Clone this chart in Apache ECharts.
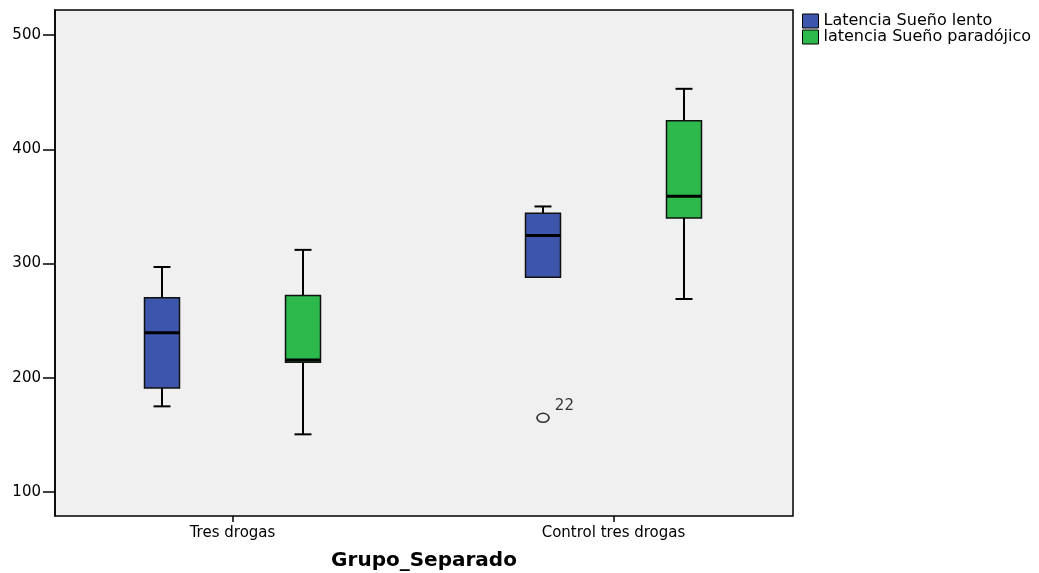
<!DOCTYPE html>
<html>
<head>
<meta charset="utf-8">
<script src="https://cdn.jsdelivr.net/npm/echarts@6/dist/echarts.min.js"></script>
<style>
html,body{margin:0;padding:0;background:#fff;}
#chart{width:1039px;height:573px;}
</style>
</head>
<body>
<div id="chart"></div>
<script>
// ---- data ----
const categories = ['Tres drogas', 'Control tres drogas'];
const seriesNames = ['Latencia Sueño lento', 'latencia Sueño paradójico'];
// [min, Q1, median, Q3, max]
const lentoStats = [
  [175, 191, 239.5, 270, 297],
  [288, 288, 324.5, 344, 350]
];
const paradojicoStats = [
  [150.5, 213.5, 215.5, 272, 312],
  [269, 340, 359, 425, 453]
];
// [categoryIndex, value, case id]
const outliers = [[1, 165, '22']];
const yTicks = [100, 200, 300, 400, 500];

// ---- styles ----
const FONT = 'DejaVu Sans';
const BOX_W = 35, CAP_W = 17, OFFSET = 70.5;
const colors = ['#3d56ab', '#2db84b'];

function makeRender(offsetPx) {
  return function (params, api) {
    const cat = api.value(0);
    const p = [1, 2, 3, 4, 5].map(i => api.coord([cat, api.value(i)]));
    const x = p[0][0] + offsetPx;
    const yMin = p[0][1], yQ1 = p[1][1], yMed = p[2][1], yQ3 = p[3][1], yMax = p[4][1];
    const ls = { stroke: '#000', lineWidth: 2 };
    const children = [];
    if (yMax < yQ3 - 0.5) {
      children.push({ type: 'line', shape: { x1: x, y1: yMax, x2: x, y2: yQ3 }, style: ls });
      children.push({ type: 'line', shape: { x1: x - CAP_W / 2, y1: yMax, x2: x + CAP_W / 2, y2: yMax }, style: ls });
    }
    if (yMin > yQ1 + 0.5) {
      children.push({ type: 'line', shape: { x1: x, y1: yQ1, x2: x, y2: yMin }, style: ls });
      children.push({ type: 'line', shape: { x1: x - CAP_W / 2, y1: yMin, x2: x + CAP_W / 2, y2: yMin }, style: ls });
    }
    children.push({
      type: 'rect',
      shape: { x: x - BOX_W / 2, y: yQ3, width: BOX_W, height: yQ1 - yQ3 },
      style: { fill: api.visual('color'), stroke: '#111', lineWidth: 1.5 }
    });
    children.push({
      type: 'line',
      shape: { x1: x - BOX_W / 2, y1: yMed, x2: x + BOX_W / 2, y2: yMed },
      style: { stroke: '#000', lineWidth: 3 }
    });
    return { type: 'group', children: children };
  };
}

const chart = echarts.init(document.getElementById('chart'), null, { renderer: 'canvas' });
chart.setOption({
  animation: false,
  backgroundColor: '#fff',
  textStyle: { fontFamily: FONT },
  legend: {
    data: seriesNames,
    orient: 'vertical',
    left: 797,
    top: 8,
    itemWidth: 16,
    itemHeight: 14,
    itemGap: 0,
    icon: 'rect',
    itemStyle: { borderColor: '#000', borderWidth: 1 },
    textStyle: { fontFamily: FONT, fontSize: 16, color: '#000', lineHeight: 14 }
  },
  grid: [
    { left: 55, right: 246, top: 10, bottom: 57, outerBoundsMode: 'none', containLabel: false, show: true, backgroundColor: '#f0f0f0', borderColor: '#000', borderWidth: 1.5 },
    { left: 42, width: 762, top: 10, bottom: 57, outerBoundsMode: 'none', containLabel: false }
  ],
  xAxis: [
    {
      gridIndex: 0, type: 'category', data: categories,
      axisLine: { show: false }, axisTick: { show: false }, axisLabel: { show: false },
      name: 'Grupo_Separado', nameLocation: 'middle', nameGap: 35,
      nameTextStyle: { fontFamily: FONT, fontSize: 20, fontWeight: 'bold', color: '#000' }
    },
    {
      gridIndex: 1, type: 'category', data: categories,
      axisLine: { show: false },
      axisTick: { show: true, alignWithLabel: true, length: 6, lineStyle: { color: '#000', width: 1.5 } },
      axisLabel: { margin: 10, fontFamily: FONT, fontSize: 15, color: '#000' }
    }
  ],
  yAxis: [
    {
      gridIndex: 0, type: 'value', min: 79, max: 522,
      splitLine: { show: false },
      axisLine: { show: true, lineStyle: { color: '#000', width: 1.5 } },
      axisTick: { show: true, length: 12, customValues: yTicks, lineStyle: { color: '#000', width: 1.5 } },
      axisLabel: { margin: 14, customValues: yTicks, fontFamily: FONT, fontSize: 15, color: '#000' }
    },
    { gridIndex: 1, type: 'value', min: 79, max: 522, show: false }
  ],
  series: [
    {
      name: seriesNames[0], type: 'custom', xAxisIndex: 1, yAxisIndex: 1,
      itemStyle: { color: colors[0] },
      encode: { x: 0, y: [1, 2, 3, 4, 5] },
      renderItem: makeRender(-OFFSET),
      data: lentoStats.map((s, i) => [i].concat(s))
    },
    {
      name: seriesNames[1], type: 'custom', xAxisIndex: 1, yAxisIndex: 1,
      itemStyle: { color: colors[1] },
      encode: { x: 0, y: [1, 2, 3, 4, 5] },
      renderItem: makeRender(OFFSET),
      data: paradojicoStats.map((s, i) => [i].concat(s))
    },
    {
      name: 'outliers', type: 'scatter', xAxisIndex: 1, yAxisIndex: 1,
      symbol: 'circle', symbolSize: [12, 9], symbolOffset: [-OFFSET, 0],
      itemStyle: { color: 'rgba(0,0,0,0)', borderColor: '#000', borderWidth: 1.5 },
      label: {
        show: true, position: 'right', distance: 5, offset: [0, -12],
        formatter: p => p.value[2], fontFamily: FONT, fontSize: 15, color: '#000'
      },
      emphasis: { disabled: true },
      data: outliers.map(o => [o[0], o[1], o[2]])
    }
  ]
});
</script>
</body>
</html>
